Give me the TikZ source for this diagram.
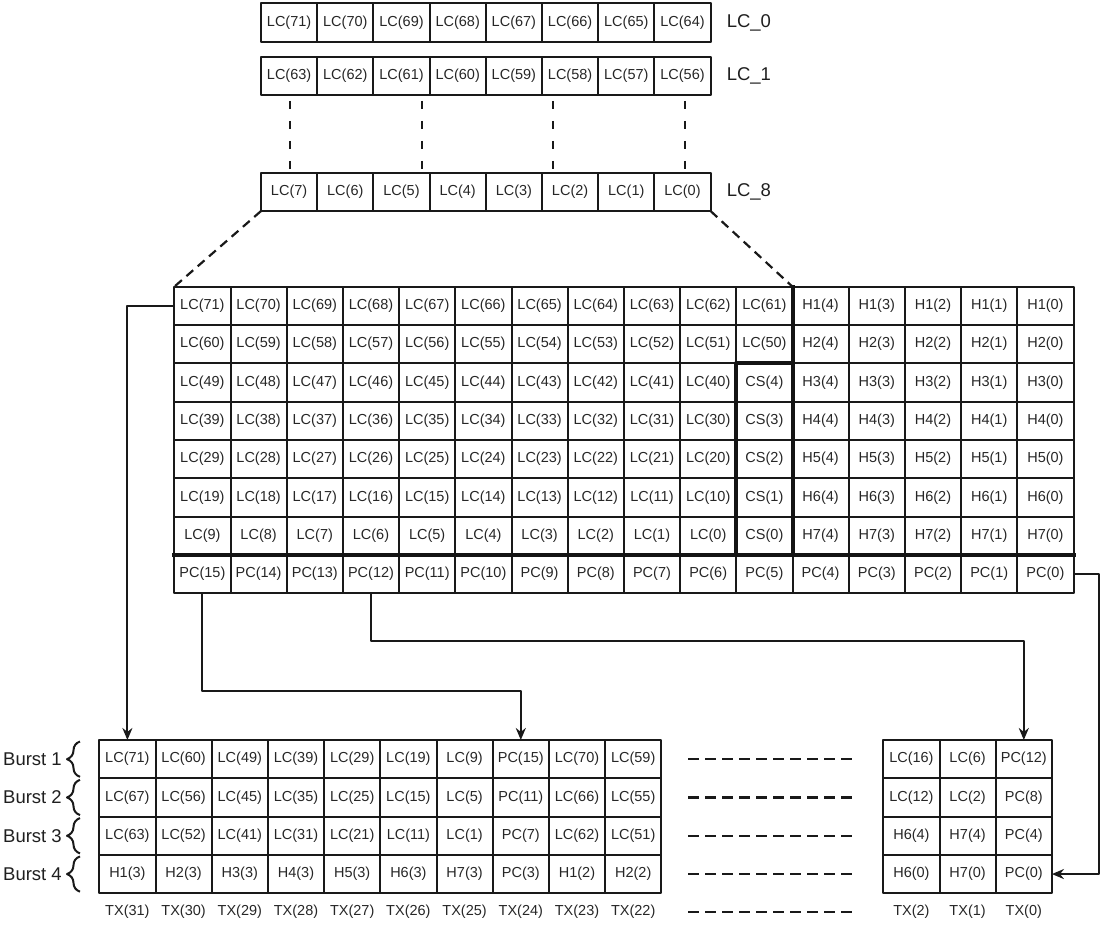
\documentclass[tikz,border=0pt]{standalone}
\usepackage{fontspec}
\setmainfont{Liberation Sans}
\usetikzlibrary{arrows.meta,decorations.pathreplacing,calc}
\begin{document}
\begin{tikzpicture}[x=1pt,y=-1pt,line join=round,>={Stealth[length=12pt,width=10pt]},
    cell/.style={draw=black!90,line width=2pt,minimum width=56.2pt,minimum height=38.3pt,inner sep=0pt,outer sep=0pt,text=black!85,font=\fontsize{14.5}{17}\selectfont},
    lbl/.style={inner sep=0pt,text=black!88,font=\fontsize{18.5}{21}\selectfont},
    txt/.style={inner sep=0pt,text=black!85,font=\fontsize{14.5}{17}\selectfont},
    wire/.style={draw=black!90,line width=2pt},
    sepline/.style={draw=black!92,line width=4pt,line cap=rect},
    stubdash/.style={draw=black!90,line width=2.2pt,dash pattern=on 8pt off 12pt},
    zoomdash/.style={draw=black!90,line width=2.2pt,dash pattern=on 9pt off 6pt},
    rowdash/.style={draw=black!90,line width=2.2pt,dash pattern=on 11pt off 6pt},
    burstbrace/.style={draw=black!90,line width=2pt,decorate,decoration={brace,amplitude=13pt}}]
    \useasboundingbox (0,0) rectangle (1102,925);
    \foreach \k/\y in {0/22.5,1/75.9,8/191.9}{
        \foreach \c in {1,...,8}{
            \pgfmathtruncatemacro\n{72-8*\k-\c}
            \node[cell] (t\k-\c) at ({261+56.2*(\c-0.5)},\y) {LC(\n)};
        }
        \node[lbl,anchor=west] (lab\k) at ($(t\k-8.east)+(16,0)$) {LC\_\k};
    }
    \foreach \x in {290,422,553,685} \draw[stubdash] (\x,101) -- (\x,169);
    \foreach \r in {1,2} \foreach \c in {1,...,11}{
        \pgfmathtruncatemacro\n{83-11*\r-\c}
        \node[cell] (g-\r-\c) at ({174.3+56.2*(\c-0.5)},{286.7+38.3*(\r-0.5)}) {LC(\n)};
    }
    \foreach \r in {3,...,7}{
        \foreach \c in {1,...,10}{
            \pgfmathtruncatemacro\n{80-10*\r-\c}
            \node[cell] (g-\r-\c) at ({174.3+56.2*(\c-0.5)},{286.7+38.3*(\r-0.5)}) {LC(\n)};
        }
        \pgfmathtruncatemacro\n{7-\r}
        \node[cell] (g-\r-11) at ({174.3+56.2*10.5},{286.7+38.3*(\r-0.5)}) {CS(\n)};
    }
    \foreach \r in {1,...,7} \foreach \c in {12,...,16}{
        \pgfmathtruncatemacro\n{16-\c}
        \node[cell] (g-\r-\c) at ({174.3+56.2*(\c-0.5)},{286.7+38.3*(\r-0.5)}) {H\r(\n)};
    }
    \foreach \c in {1,...,16}{
        \pgfmathtruncatemacro\n{16-\c}
        \node[cell] (g-8-\c) at ({174.3+56.2*(\c-0.5)},{286.7+38.3*7.5}) {PC(\n)};
    }
    \draw[sepline] (g-1-11.north east) -- (g-7-11.south east);
    \draw[sepline] (g-7-1.south west) -- (g-7-16.south east);
    \draw[sepline] (g-7-11.south west) -- (g-3-11.north west) -- (g-3-11.north east);
    \draw[zoomdash] (t8-1.south west) -- (g-1-1.north west);
    \draw[zoomdash] (t8-8.south east) -- (g-1-11.north east);
    \foreach \r/\row in {1/{LC(71),LC(60),LC(49),LC(39),LC(29),LC(19),LC(9),PC(15),LC(70),LC(59)},
                         2/{LC(67),LC(56),LC(45),LC(35),LC(25),LC(15),LC(5),PC(11),LC(66),LC(55)},
                         3/{LC(63),LC(52),LC(41),LC(31),LC(21),LC(11),LC(1),PC(7),LC(62),LC(51)},
                         4/{H1(3),H2(3),H3(3),H4(3),H5(3),H6(3),H7(3),PC(3),H1(2),H2(2)}}{
        \foreach \lab [count=\c] in \row
            \node[cell] (b-\r-\c) at ({99.3+56.2*(\c-0.5)},{740+38.3*(\r-0.5)}) {\lab};
    }
    \foreach \r/\row in {1/{LC(16),LC(6),PC(12)},2/{LC(12),LC(2),PC(8)},3/{H6(4),H7(4),PC(4)},4/{H6(0),H7(0),PC(0)}}{
        \foreach \lab [count=\c] in \row
            \node[cell] (r-\r-\c) at ({883.3+56.2*(\c-0.5)},{740+38.3*(\r-0.5)}) {\lab};
    }
    \foreach \r in {1,...,4}{
        \node[lbl,anchor=east] (burst\r) at (62,{740+38.3*(\r-0.5)}) {Burst \r};
        \draw[burstbrace] (80,{740+38.3*\r-1.5}) -- (80,{740+38.3*(\r-1)+1.5});
        \draw[rowdash] ($(b-\r-10.east)+(27,0)$) -- ($(r-\r-1.west)+(-31,0)$);
    }
    \foreach \n [count=\c] in {31,30,...,22}
        \node[txt] (tx\n) at ({99.3+56.2*(\c-0.5)},912) {TX(\n)};
    \foreach \n [count=\c] in {2,1,0}
        \node[txt] (tx\n) at ({883.3+56.2*(\c-0.5)},912) {TX(\n)};
    \draw[rowdash] ($(tx22)+(55,0)$) -- ($(tx2)+(-59,0)$);
    \draw[wire,->] (g-1-1.west) -| (b-1-1.north);
    \draw[wire,->] (g-8-1.south) -- ++(0,98) -| (b-1-8.north);
    \draw[wire,->] (g-8-4.south) -- ++(0,48) -| (r-1-3.north);
    \draw[wire,->] (g-8-16.east) -- ++(25,0) |- (r-4-3.east);
\end{tikzpicture}
\end{document}
